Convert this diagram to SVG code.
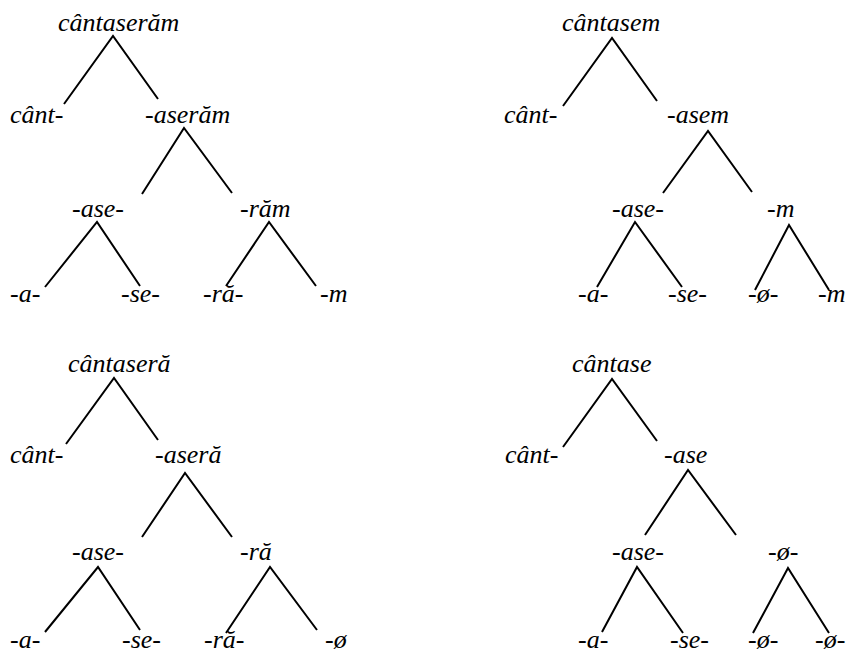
<svg xmlns="http://www.w3.org/2000/svg" width="848" height="654" viewBox="0 0 848 654">
<style>
text{font-family:"Liberation Serif","Times New Roman",serif;font-style:italic;font-size:26px;fill:#000}
.e{stroke:#000;stroke-width:2;fill:none;stroke-linecap:butt}
</style>
<rect width="848" height="654" fill="#fff"/>
<g id="connectors">
<path class="e" d="M64,104L113,36L158,99 M142,194L184,128L232,193 M45,287L97,222L140,286 M226,286L269,222L316,286"/>
<path class="e" d="M563,106L612,38L657,101 M663,193L708,131L752,192 M597,287L635,222L682,287 M755,290L789,225L829,290"/>
<path class="e" d="M66,444L114,378L158,440 M142,537L185,473L232,537 M45,632L98,567L140,630 M226,633L270,567L317,630"/>
<path class="e" d="M563,447L612,379L657,441 M645,535L688,470L736,535 M602,632L637,567L683,633 M753,633L788,568L829,633"/>
</g>
<g id="t1">
<g id="t1-root"><text x="58" y="31">cântaserăm</text></g>
<g id="t1-cant"><text x="10" y="123">cânt-</text></g>
<g id="t1-aseram"><text x="145" y="123">-aserăm</text></g>
<g id="t1-ase"><text x="72" y="217">-ase-</text></g>
<g id="t1-ram"><text x="240" y="217">-răm</text></g>
<g id="t1-a"><text x="10" y="302">-a-</text></g>
<g id="t1-se"><text x="121" y="302">-se-</text></g>
<g id="t1-ra"><text x="203" y="302">-ră-</text></g>
<g id="t1-m"><text x="320" y="302">-m</text></g>
</g>
<g id="t2">
<g id="t2-root"><text x="562" y="31">cântasem</text></g>
<g id="t2-cant"><text x="504" y="123">cânt-</text></g>
<g id="t2-asem"><text x="667" y="123">-asem</text></g>
<g id="t2-ase"><text x="612" y="217">-ase-</text></g>
<g id="t2-m"><text x="767" y="217">-m</text></g>
<g id="t2-a"><text x="578" y="302">-a-</text></g>
<g id="t2-se"><text x="668" y="302">-se-</text></g>
<g id="t2-phi"><text x="748" y="302">-ø-</text></g>
<g id="t2-m2"><text x="818" y="302">-m</text></g>
</g>
<g id="t3">
<g id="t3-root"><text x="68" y="372">cântaseră</text></g>
<g id="t3-cant"><text x="10" y="463">cânt-</text></g>
<g id="t3-asera"><text x="155" y="463">-aseră</text></g>
<g id="t3-ase"><text x="72" y="560">-ase-</text></g>
<g id="t3-ra"><text x="240" y="560">-ră</text></g>
<g id="t3-a"><text x="10" y="648">-a-</text></g>
<g id="t3-se"><text x="122" y="648">-se-</text></g>
<g id="t3-ra2"><text x="204" y="648">-ră-</text></g>
<g id="t3-phi"><text x="325" y="648">-ø</text></g>
</g>
<g id="t4">
<g id="t4-root"><text x="572" y="372">cântase</text></g>
<g id="t4-cant"><text x="505" y="463">cânt-</text></g>
<g id="t4-ase0"><text x="664" y="463">-ase</text></g>
<g id="t4-ase"><text x="612" y="560">-ase-</text></g>
<g id="t4-phi"><text x="768" y="560">-ø-</text></g>
<g id="t4-a"><text x="578" y="648">-a-</text></g>
<g id="t4-se"><text x="670" y="648">-se-</text></g>
<g id="t4-phi2"><text x="748" y="648">-ø-</text></g>
<g id="t4-phi3"><text x="815" y="648">-ø-</text></g>
</g>
</svg>
